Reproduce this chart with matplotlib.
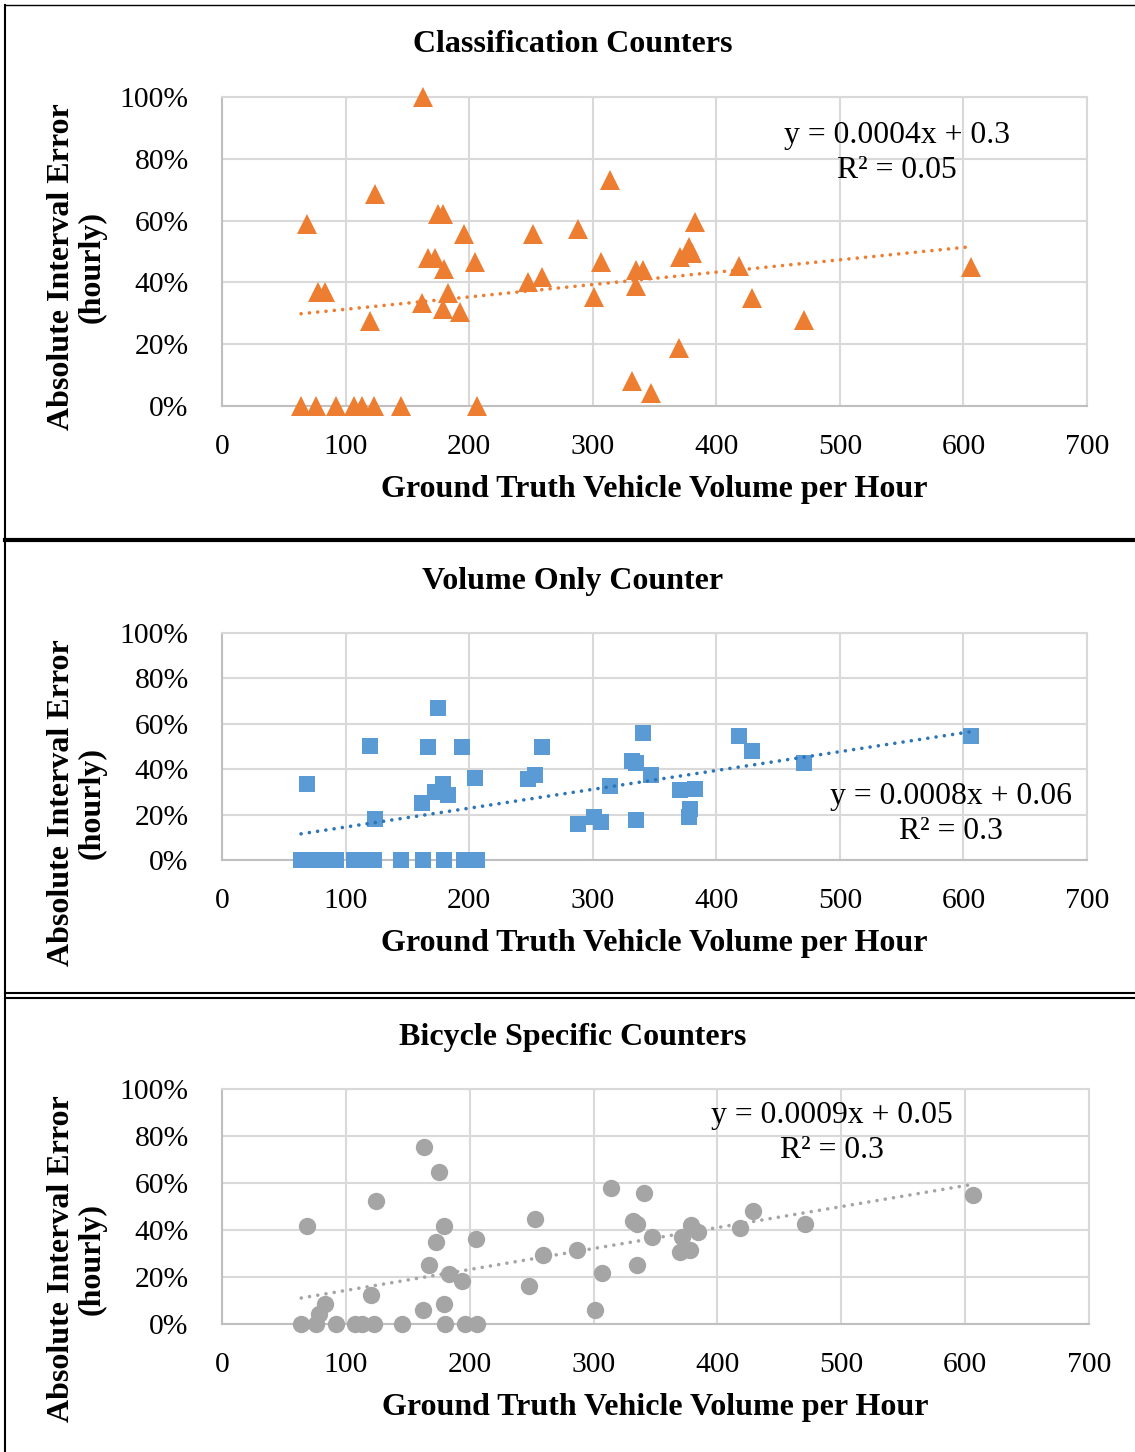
import numpy as np
import matplotlib
matplotlib.use('Agg')
import matplotlib.pyplot as plt
from matplotlib.lines import Line2D
from matplotlib.ticker import PercentFormatter

plt.rcParams['font.family'] = ['Liberation Serif', 'DejaVu Serif']

# Datos (x = vehiculos por hora, y = error absoluto)
clas_x = [163, 124, 69, 78, 83, 120, 175, 179, 196, 167, 172, 180, 205, 183, 162, 179, 193,
          252, 248, 259, 288, 314, 307, 301, 335, 341, 335, 332, 347, 383, 371, 378, 380,
          418, 429, 471, 606, 370,
          64, 76, 92, 107, 113, 123, 145, 206]
clas_y = [1.00, 0.686, 0.59, 0.37, 0.37, 0.275, 0.62, 0.62, 0.557, 0.48, 0.48, 0.443, 0.466,
          0.366, 0.333, 0.314, 0.304,
          0.557, 0.40, 0.417, 0.573, 0.73, 0.466, 0.353, 0.44, 0.44, 0.388, 0.08, 0.042,
          0.596, 0.482, 0.515, 0.495, 0.453, 0.35, 0.278, 0.45, 0.188,
          0, 0, 0, 0, 0, 0, 0, 0]

vol_x = [175, 120, 167, 194, 259, 69, 179, 172, 183, 162, 205, 248, 253, 123.5, 288, 301,
         307, 314, 335, 332, 335, 341, 347, 371, 383, 379, 378, 418, 429, 471, 606,
         64, 76, 83, 92, 107, 113, 123, 145, 163, 180, 196, 206]
vol_y = [0.668, 0.502, 0.50, 0.50, 0.50, 0.335, 0.335, 0.30, 0.288, 0.25, 0.36, 0.358, 0.376,
         0.182, 0.157, 0.188, 0.167, 0.327, 0.176, 0.437, 0.426, 0.558, 0.373, 0.308, 0.313,
         0.223, 0.19, 0.548, 0.482, 0.426, 0.548,
         0, 0, 0, 0, 0, 0, 0, 0, 0, 0, 0, 0]

bici_x = [163, 175, 124, 69, 179, 173, 205, 167, 183, 194, 253, 259, 248, 287, 314, 341,
          332, 335, 347, 307, 335, 301, 120, 83, 78, 162, 179, 379, 384, 371, 370, 378,
          418, 429, 471, 606,
          64, 76, 92, 107, 113, 123, 145, 180, 196, 206]
bici_y = [0.752, 0.645, 0.525, 0.417, 0.417, 0.35, 0.362, 0.25, 0.214, 0.185, 0.445, 0.295,
          0.16, 0.314, 0.58, 0.557, 0.44, 0.425, 0.371, 0.217, 0.25, 0.06, 0.124, 0.083,
          0.043, 0.06, 0.083, 0.421, 0.392, 0.371, 0.307, 0.317, 0.409, 0.482, 0.425, 0.55,
          0, 0, 0, 0, 0, 0, 0, 0, 0, 0]

titulos = ['Classification Counters', 'Volume Only Counter', 'Bicycle Specific Counters']
ecuaciones = ['y = 0.0004x + 0.3\nR² = 0.05', 'y = 0.0008x + 0.06\nR² = 0.3',
              'y = 0.0009x + 0.05\nR² = 0.3']

W, H = 1135, 1452
fig = plt.figure(figsize=(W / 100, H / 100), dpi=100)


def fx(px):
    return px / W


def fy(py):
    return 1 - py / H


paneles = [
    # datos, marcador, tamaño, color, color tendencia, caja del eje (px), y titulo, y xlabel, y ylabel, pos ecuacion
    (clas_x, clas_y, '^', 14, '#ED7D31', '#ED7D31', (222, 97, 1087, 406), 45, 489, 267, (897, 153)),
    (vol_x, vol_y, 's', 12, '#5B9BD5', '#2E75B6', (222, 633, 1087, 860), 581, 943, 803, (951, 814)),
    (bici_x, bici_y, 'o', 12.5, '#A5A5A5', '#A5A5A5', (222, 1089, 1089, 1324), 1037, 1407, 1259, (832, 1133)),
]

for i, (xs, ys, mk, ms, col, tcol, caja, ytit, yxl, yyl, eq) in enumerate(paneles):
    l, t, r, b = caja
    ax = fig.add_axes([fx(l), fy(b), fx(r - l), (b - t) / H])
    ax.plot(xs, ys, linestyle='none', marker=mk, markersize=ms, color=col,
            markeredgewidth=0, clip_on=False, zorder=3)

    # linea de tendencia (minimos cuadrados)
    m, c = np.polyfit(xs, ys, 1)
    xt = np.array([min(xs), max(xs)])
    ax.plot(xt, m * xt + c, color=tcol, linewidth=2.6, linestyle=(0, (0.01, 2.3)),
            dash_capstyle='round', zorder=4)

    ax.set_xlim(0, 700)
    ax.set_ylim(0, 1)
    ax.set_xticks(range(0, 701, 100))
    ax.set_yticks(np.arange(0, 1.01, 0.2))
    ax.yaxis.set_major_formatter(PercentFormatter(1.0, decimals=0))
    ax.tick_params(length=0, labelsize=21.3, colors='black')
    ax.tick_params(axis='y', pad=24)
    ax.tick_params(axis='x', pad=20)
    ax.grid(True, color='#d9d9d9', linewidth=1.5)
    ax.set_axisbelow(True)
    for s in ['top', 'right']:
        ax.spines[s].set_color('#d9d9d9')
        ax.spines[s].set_linewidth(1.5)
    for s in ['left', 'bottom']:
        ax.spines[s].set_color('#bfbfbf')
        ax.spines[s].set_linewidth(1.5)

    fig.text(fx(573), fy(ytit), titulos[i], ha='center', va='center',
             fontsize=23, fontweight='bold')
    fig.text(fx((l + r) / 2), fy(yxl), 'Ground Truth Vehicle Volume per Hour',
             ha='center', va='center', fontsize=23, fontweight='bold')
    fig.text(fx(77), fy(yyl), 'Absolute Interval Error\n(hourly)', rotation=90,
             ha='center', va='center', multialignment='center', fontsize=23,
             fontweight='bold', linespacing=1.06)
    fig.text(fx(eq[0]), fy(eq[1]), ecuaciones[i], ha='center', va='center',
             multialignment='center', fontsize=22.8, linespacing=1.25)

# marcos de los paneles
fig.add_artist(Line2D([fx(5), 1], [fy(5), fy(5)], color='black', linewidth=1.0))
fig.add_artist(Line2D([fx(5), fx(5)], [fy(5), 0], color='black', linewidth=1.5))
fig.add_artist(Line2D([fx(5), 1], [fy(540), fy(540)], color='black', linewidth=3.0))
fig.add_artist(Line2D([fx(5), 1], [fy(992.5), fy(992.5)], color='black', linewidth=1.5))
fig.add_artist(Line2D([fx(5), 1], [fy(997.5), fy(997.5)], color='black', linewidth=1.5))

plt.savefig('out.png', dpi=100)
